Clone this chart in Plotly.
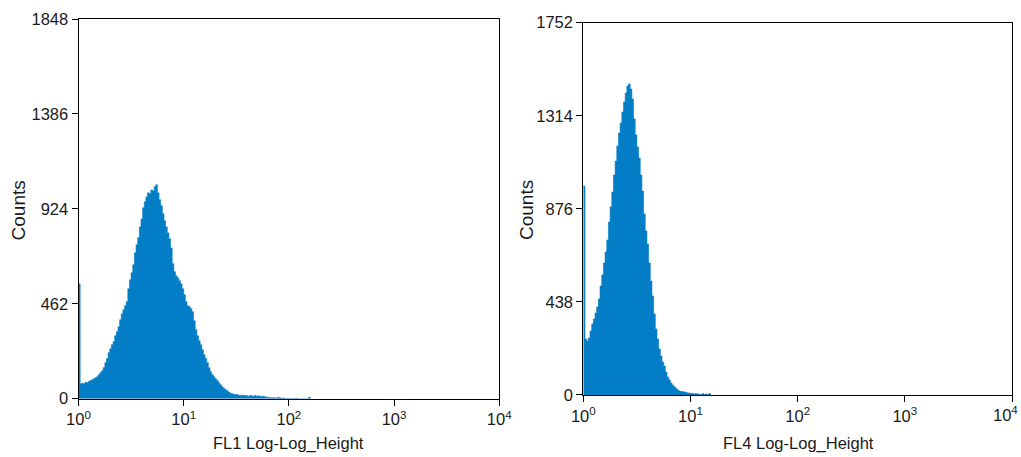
import numpy as np
import plotly.graph_objects as go

# Channel resolution of the log-scaled detector: 64 channels per decade, 4 decades
CHANNELS_PER_DECADE = 64

# FL1 Log-Log_Height histogram counts, channel 0 upward
fl1_counts = [
    559, 73, 75, 73, 80, 78, 85, 88, 92, 97,
    102, 107, 117, 126, 136, 151, 175, 195, 224, 243,
    263, 277, 306, 326, 350, 384, 413, 433, 452, 472,
    535, 579, 613, 652, 710, 749, 783, 836, 875, 929,
    958, 982, 1002, 997, 1016, 1011, 1031, 1041, 1002, 968,
    939, 900, 866, 836, 807, 778, 734, 657, 618, 598,
    588, 574, 559, 535, 506, 472, 452, 447, 438, 423,
    379, 336, 306, 282, 263, 238, 214, 195, 175, 151,
    131, 117, 107, 97, 88, 78, 68, 58, 51, 44,
    39, 32, 27, 24, 22, 19, 20, 17, 17, 15,
    17, 15, 14, 12, 15, 14, 12, 15, 12, 14,
    12, 10, 12, 9, 7, 7, 5, 5, 4, 5,
    2, 7, 5, 2, 3, 2, 0, 2, 0, 1,
    0, 0, 2, 0, 0, 0, 0, 0, 0, 0, 7,
]

# FL4 Log-Log_Height histogram counts, channel 0 upward
fl4_counts = [
    983, 264, 254, 268, 301, 334, 358, 386, 414, 452,
    513, 565, 621, 673, 729, 814, 885, 955, 1035, 1101,
    1172, 1233, 1280, 1332, 1379, 1421, 1454, 1464, 1440, 1393,
    1299, 1224, 1167, 1115, 1035, 960, 852, 772, 711, 621,
    536, 466, 381, 311, 264, 216, 184, 155, 136, 108,
    85, 71, 56, 47, 38, 31, 24, 19, 16, 16,
    14, 12, 9, 9, 7, 7, 5, 7, 5, 4,
    2, 7, 2, 5, 2, 7,
]

fl1_yticks = [0, 462, 924, 1386, 1848]
fl4_yticks = [0, 438, 876, 1314, 1752]
x_tickvals = [1, 10, 100, 1000, 10000]
x_ticktext = ["10<sup>0</sup>", "10<sup>1</sup>", "10<sup>2</sup>",
              "10<sup>3</sup>", "10<sup>4</sup>"]

FILL = "#027dc6"
TEXT = "#1a1a1a"
FONT = "Liberation Sans, Arial, sans-serif"
TICK_SIZE = 16.5
VTITLE_SIZE = 19


def step_trace(counts, xaxis, yaxis):
    n = len(counts)
    edges = 10 ** (np.arange(n + 1) / CHANNELS_PER_DECADE)
    xs = list(edges[:-1]) + [edges[-1]]
    ys = list(counts) + [0]
    return go.Scatter(
        x=xs, y=ys, mode="lines", line=dict(shape="hv", width=0.6, color=FILL),
        fill="tozeroy", fillcolor=FILL, xaxis=xaxis, yaxis=yaxis,
        hoverinfo="skip", showlegend=False,
    )


fig = go.Figure()
fig.add_trace(step_trace(fl1_counts, "x", "y"))
fig.add_trace(step_trace(fl4_counts, "x2", "y2"))

axis_style = dict(
    ticks="outside", ticklen=6, tickwidth=1, tickcolor="black",
    showline=True, linecolor="black", linewidth=1, mirror=True,
    showgrid=False, zeroline=False, automargin=False,
    tickfont=dict(family=FONT, size=TICK_SIZE, color=TEXT),
)
common_x = dict(axis_style, type="log", range=[0, 4], tickvals=x_tickvals)

# The right panel's last decade label sits at the page edge, so it is drawn
# as a right-aligned annotation instead of a centred tick label.
right_ticktext = x_ticktext[:-1] + [""]

fig.update_layout(
    width=1021, height=457, autosize=False,
    margin=dict(l=0, r=0, t=0, b=0),
    paper_bgcolor="white", plot_bgcolor="white",
    xaxis=dict(common_x, domain=[0.0769, 0.489], anchor="y", ticktext=x_ticktext),
    yaxis=dict(axis_style, domain=[0.1276, 0.9584], anchor="x",
               range=[0, 1848], tickvals=fl1_yticks),
    xaxis2=dict(common_x, domain=[0.5713, 0.9912], anchor="y2", ticktext=right_ticktext),
    yaxis2=dict(axis_style, domain=[0.1357, 0.9503], anchor="x2",
                range=[0, 1752], tickvals=fl4_yticks),
)

fig.add_annotation(x=1.0, y=0.1357, xref="paper", yref="paper",
                   text=x_ticktext[-1], showarrow=False,
                   xanchor="right", yanchor="top", yshift=-7, xshift=-1,
                   font=dict(family=FONT, size=TICK_SIZE, color=TEXT))

# Axis titles
for x, y, text, angle, size in [
    (0.0176, 0.5395, "Counts", -90, VTITLE_SIZE),
    (0.5162, 0.5405, "Counts", -90, VTITLE_SIZE),
    (0.283, 0.0306, "FL1 Log-Log_Height", 0, TICK_SIZE),
    (0.7816, 0.0306, "FL4 Log-Log_Height", 0, TICK_SIZE),
]:
    fig.add_annotation(x=x, y=y, xref="paper", yref="paper", text=text,
                       textangle=angle, showarrow=False,
                       font=dict(family=FONT, size=size, color=TEXT),
                       xanchor="center", yanchor="middle")

fig.write_html("out.html")
